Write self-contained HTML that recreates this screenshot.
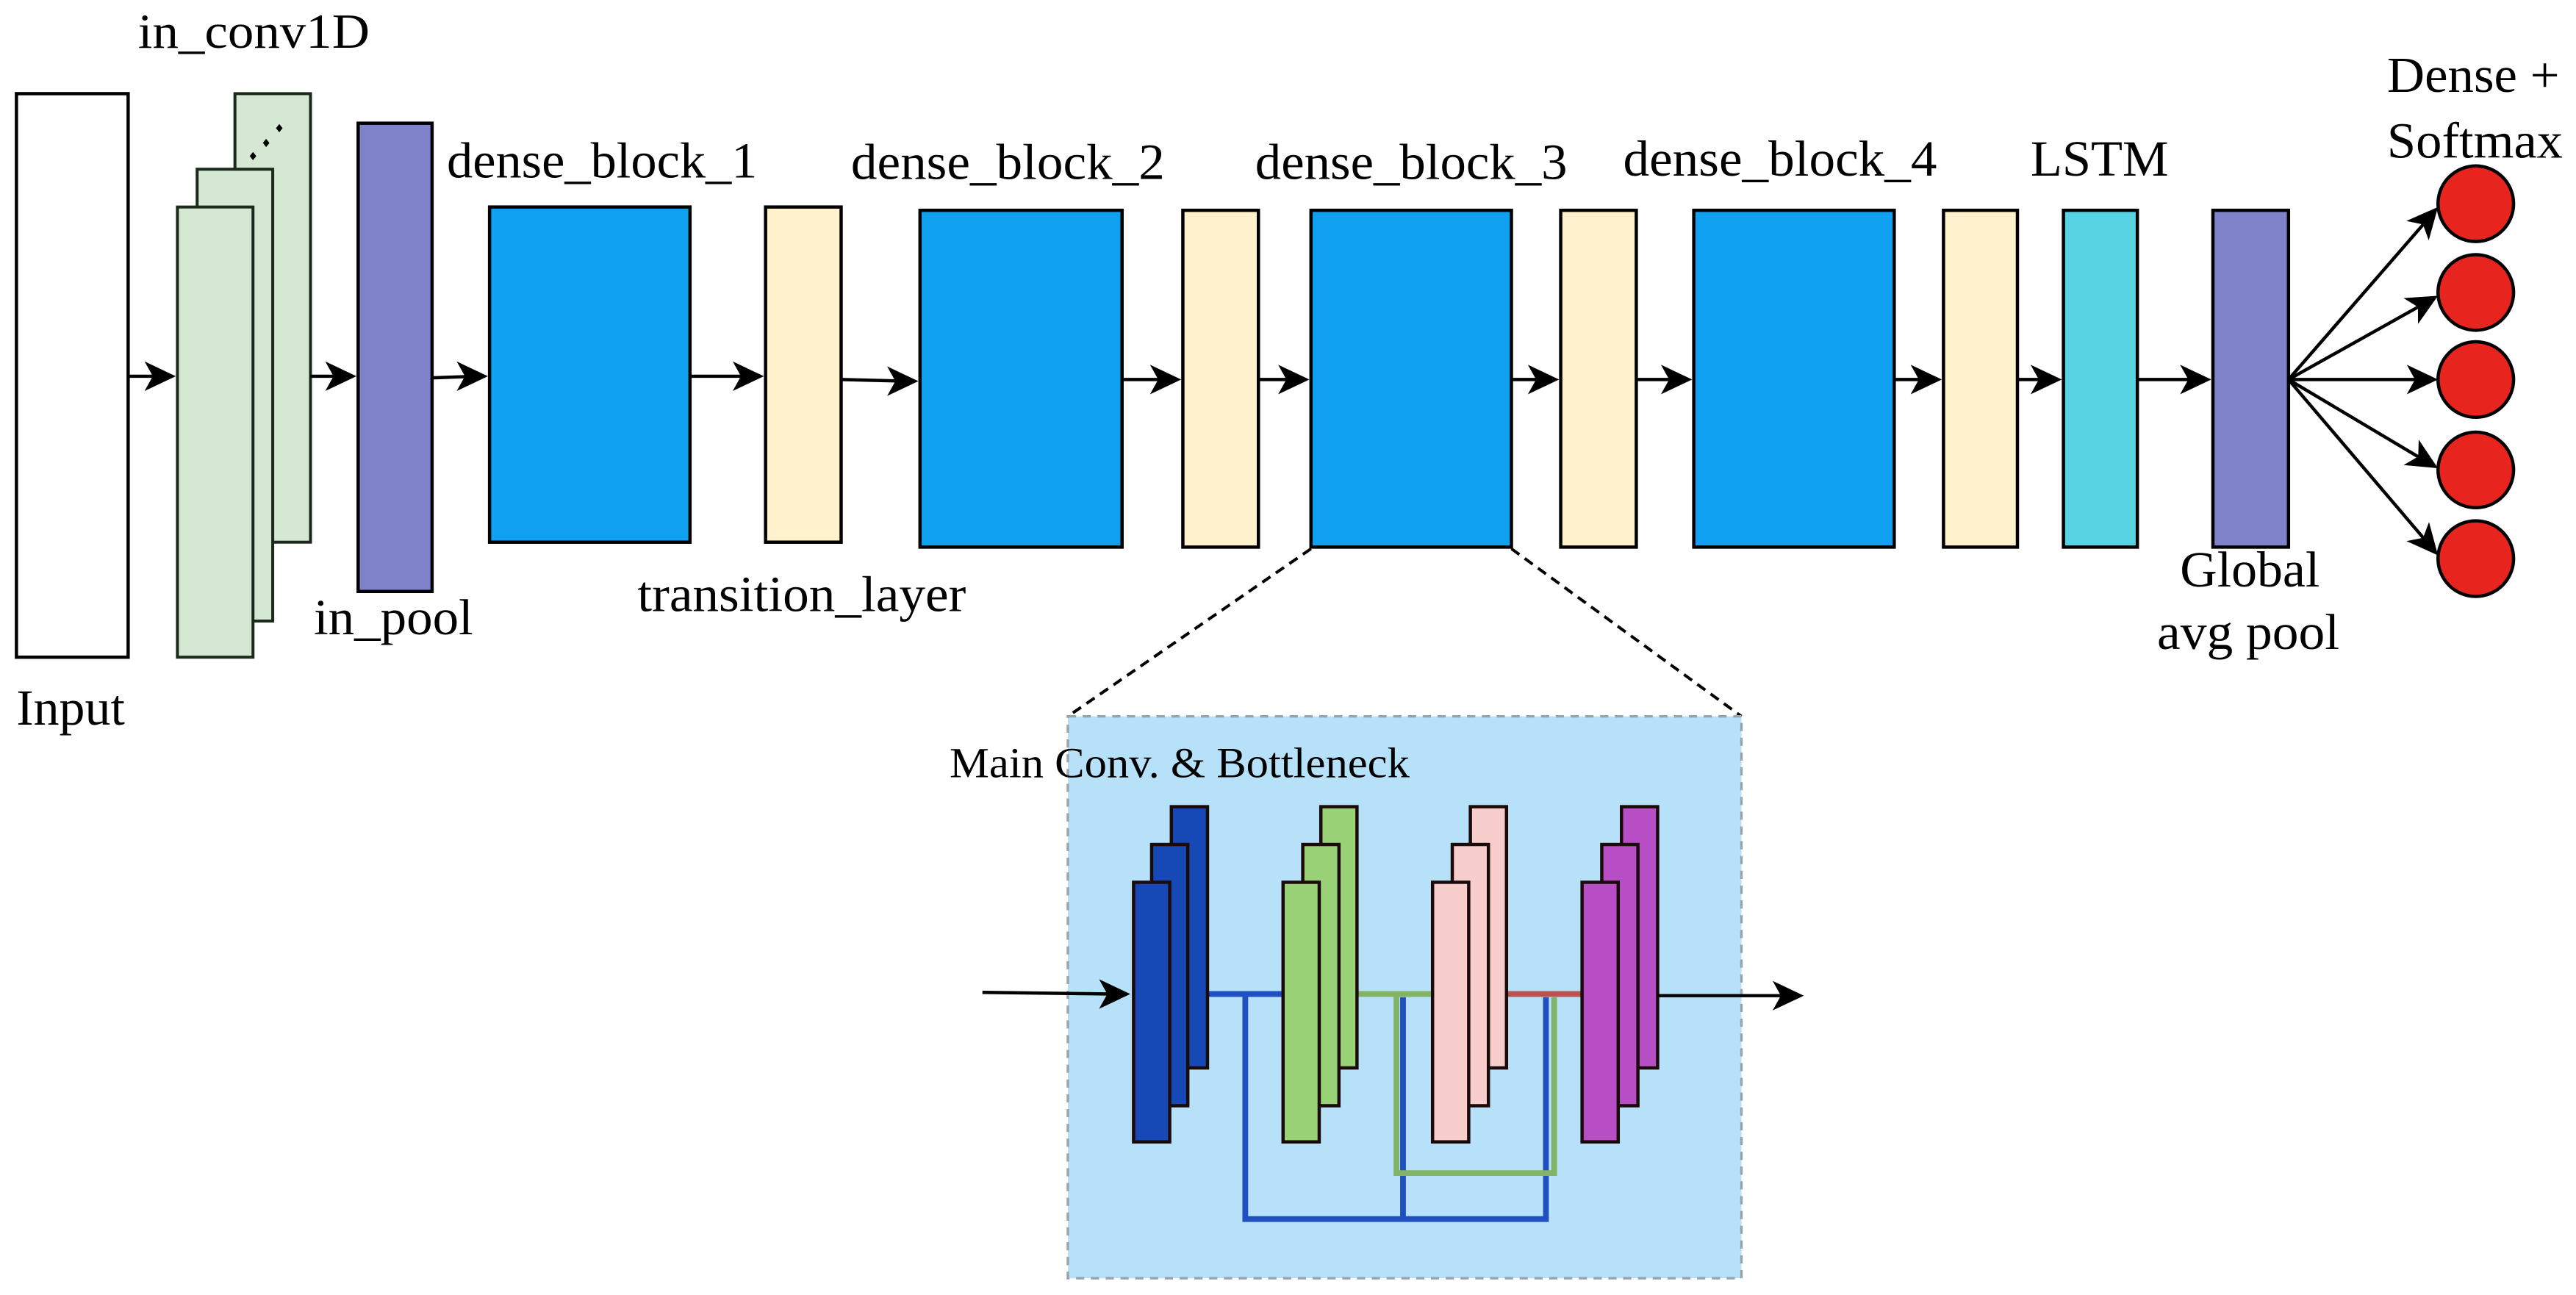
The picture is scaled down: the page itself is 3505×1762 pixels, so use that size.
<!DOCTYPE html>
<html><head><meta charset="utf-8"><style>html,body{margin:0;padding:0;background:#fff}svg{display:block}</style></head>
<body>
<svg width="3505" height="1762" viewBox="0 0 1568 788.2" preserveAspectRatio="none" xmlns="http://www.w3.org/2000/svg" font-family="'Liberation Serif', serif">
<defs>
<path id="h" d="M0,0 L-19,-9 L-14,0 L-19,9 Z" fill="#000"/>
</defs>
<rect x="0" y="0" width="1568" height="788.2" fill="#fff"/>
<rect x="10" y="57" width="68" height="343" fill="#fff" stroke="#000" stroke-width="2"/>
<text x="10" y="441" font-size="31" textLength="66" lengthAdjust="spacingAndGlyphs">Input</text>
<text x="84" y="29" font-size="30" textLength="141" lengthAdjust="spacingAndGlyphs">in_conv1D</text>
<g fill="#d5e8d4" stroke="#1c2a1c" stroke-width="1.8">
<rect x="143" y="57" width="46" height="273"/>
<rect x="120" y="103" width="46" height="275"/>
<rect x="108" y="126" width="46" height="274"/>
</g>
<g fill="#000"><path d="M152,95 l2,-2.5 l2,2.5 l-2,2.5z"/><path d="M160,87 l2,-2.5 l2,2.5 l-2,2.5z"/><path d="M168,78 l2,-2.5 l2,2.5 l-2,2.5z"/></g>
<rect x="218" y="75" width="45" height="285" fill="#7e83c9" stroke="#000" stroke-width="2"/>
<text x="191" y="386" font-size="31" textLength="97" lengthAdjust="spacingAndGlyphs">in_pool</text>
<g stroke="#000" stroke-width="2">
<rect x="298" y="126" width="122" height="204" fill="#10a0f0"/>
<rect x="466" y="126" width="46" height="204" fill="#fff2cc"/>
<rect x="560" y="128" width="123" height="205" fill="#10a0f0"/>
<rect x="720" y="128" width="46" height="205" fill="#fff2cc"/>
<rect x="798" y="128" width="122" height="205" fill="#10a0f0"/>
<rect x="950" y="128" width="46" height="205" fill="#fff2cc"/>
<rect x="1031" y="128" width="122" height="205" fill="#10a0f0"/>
<rect x="1183" y="128" width="45" height="205" fill="#fff2cc"/>
<rect x="1256" y="128" width="45" height="205" fill="#58d3e3"/>
<rect x="1347" y="128" width="46" height="205" fill="#7e83c9"/>
</g>
<g font-size="31">
<text x="272" y="108" textLength="189" lengthAdjust="spacingAndGlyphs">dense_block_1</text>
<text x="518" y="109" textLength="191" lengthAdjust="spacingAndGlyphs">dense_block_2</text>
<text x="764" y="109" textLength="190" lengthAdjust="spacingAndGlyphs">dense_block_3</text>
<text x="988" y="107" textLength="191" lengthAdjust="spacingAndGlyphs">dense_block_4</text>
<text x="1236" y="107" textLength="84" lengthAdjust="spacingAndGlyphs">LSTM</text>
<text x="388" y="372" textLength="200" lengthAdjust="spacingAndGlyphs">transition_layer</text>
<text x="1327" y="357" textLength="85" lengthAdjust="spacingAndGlyphs">Global</text>
<text x="1313" y="395" textLength="111" lengthAdjust="spacingAndGlyphs">avg pool</text>
<text x="1453" y="56" textLength="105" lengthAdjust="spacingAndGlyphs">Dense +</text>
<text x="1453" y="96" textLength="107" lengthAdjust="spacingAndGlyphs">Softmax</text>
</g>
<g stroke="#000" stroke-width="2">
<line x1="78" y1="229" x2="100" y2="229"/>
<line x1="189" y1="229" x2="210" y2="229"/>
<line x1="263" y1="230" x2="290" y2="229"/>
<line x1="420" y1="229" x2="458" y2="229"/>
<line x1="512" y1="231" x2="552" y2="232"/>
<line x1="683" y1="231" x2="712" y2="231"/>
<line x1="766" y1="231" x2="790" y2="231"/>
<line x1="920" y1="231" x2="942" y2="231"/>
<line x1="996" y1="231" x2="1023" y2="231"/>
<line x1="1153" y1="231" x2="1175" y2="231"/>
<line x1="1228" y1="231" x2="1248" y2="231"/>
<line x1="1301" y1="231" x2="1339" y2="231"/>
<line x1="1393" y1="231" x2="1479" y2="132"/>
<line x1="1393" y1="231" x2="1477" y2="184"/>
<line x1="1393" y1="231" x2="1477" y2="231"/>
<line x1="1393" y1="231" x2="1477" y2="281"/>
<line x1="1393" y1="231" x2="1479" y2="332"/>
</g>
<use href="#h" transform="translate(107,229)"/>
<use href="#h" transform="translate(217,229)"/>
<use href="#h" transform="translate(297,229)"/>
<use href="#h" transform="translate(465,229)"/>
<use href="#h" transform="translate(559,232)"/>
<use href="#h" transform="translate(719,231)"/>
<use href="#h" transform="translate(797,231)"/>
<use href="#h" transform="translate(949,231)"/>
<use href="#h" transform="translate(1030,231)"/>
<use href="#h" transform="translate(1182,231)"/>
<use href="#h" transform="translate(1255,231)"/>
<use href="#h" transform="translate(1346,231)"/>
<use href="#h" transform="translate(1484,126) rotate(-49.1)"/>
<use href="#h" transform="translate(1484,180) rotate(-29.3)"/>
<use href="#h" transform="translate(1484,231)"/>
<use href="#h" transform="translate(1484,285) rotate(30.7)"/>
<use href="#h" transform="translate(1484,338) rotate(49.6)"/>
<g fill="#e8241f" stroke="#000" stroke-width="2">
<ellipse cx="1507" cy="124" rx="23" ry="23"/>
<ellipse cx="1507" cy="178" rx="23" ry="23"/>
<ellipse cx="1507" cy="231" rx="23" ry="23"/>
<ellipse cx="1507" cy="286" rx="23" ry="23"/>
<ellipse cx="1507" cy="340" rx="23" ry="23"/>
</g>
<g stroke="#000" stroke-width="1.8" stroke-dasharray="6,4">
<line x1="798" y1="334" x2="650" y2="436"/>
<line x1="920" y1="334" x2="1060" y2="436"/>
</g>
<rect x="650" y="436" width="410" height="342" fill="#b6e1f8" stroke="#9aa3aa" stroke-width="1.5" stroke-dasharray="5,4"/>
<text x="578" y="473" font-size="26" textLength="280" lengthAdjust="spacingAndGlyphs">Main Conv. &amp; Bottleneck</text>
<g fill="none" stroke-width="3.5">
<polyline points="735,605 781,605" stroke="#1f4fc0"/>
<polyline points="758,605 758,742 941,742 941,607" stroke="#1f4fc0"/>
<polyline points="854,607 854,742" stroke="#1f4fc0"/>
<polyline points="826,605 872,605" stroke="#82b366"/>
<polyline points="850,605 850,714 946,714 946,607" stroke="#82b366"/>
<polyline points="917,605 963,605" stroke="#b85450"/>
</g>
<g stroke="#1a0a0a" stroke-width="2">
<rect x="713" y="491" width="22" height="159" fill="#1649b5"/>
<rect x="701" y="514" width="22" height="159" fill="#1649b5"/>
<rect x="690" y="537" width="22" height="158" fill="#1649b5"/>
<rect x="804" y="491" width="22" height="159" fill="#99d177"/>
<rect x="793" y="514" width="22" height="159" fill="#99d177"/>
<rect x="781" y="537" width="22" height="158" fill="#99d177"/>
<rect x="895" y="491" width="22" height="159" fill="#f8cecc"/>
<rect x="884" y="514" width="22" height="159" fill="#f8cecc"/>
<rect x="872" y="537" width="22" height="158" fill="#f8cecc"/>
<rect x="987" y="491" width="22" height="159" fill="#b84ec6"/>
<rect x="975" y="514" width="22" height="159" fill="#b84ec6"/>
<rect x="963" y="537" width="22" height="158" fill="#b84ec6"/>
</g>
<g stroke="#000" stroke-width="2">
<line x1="598" y1="604" x2="678" y2="605"/>
<line x1="1009" y1="606" x2="1088" y2="606"/>
</g>
<use href="#h" transform="translate(688,605)"/>
<use href="#h" transform="translate(1098,606)"/>
</svg>
</body></html>
